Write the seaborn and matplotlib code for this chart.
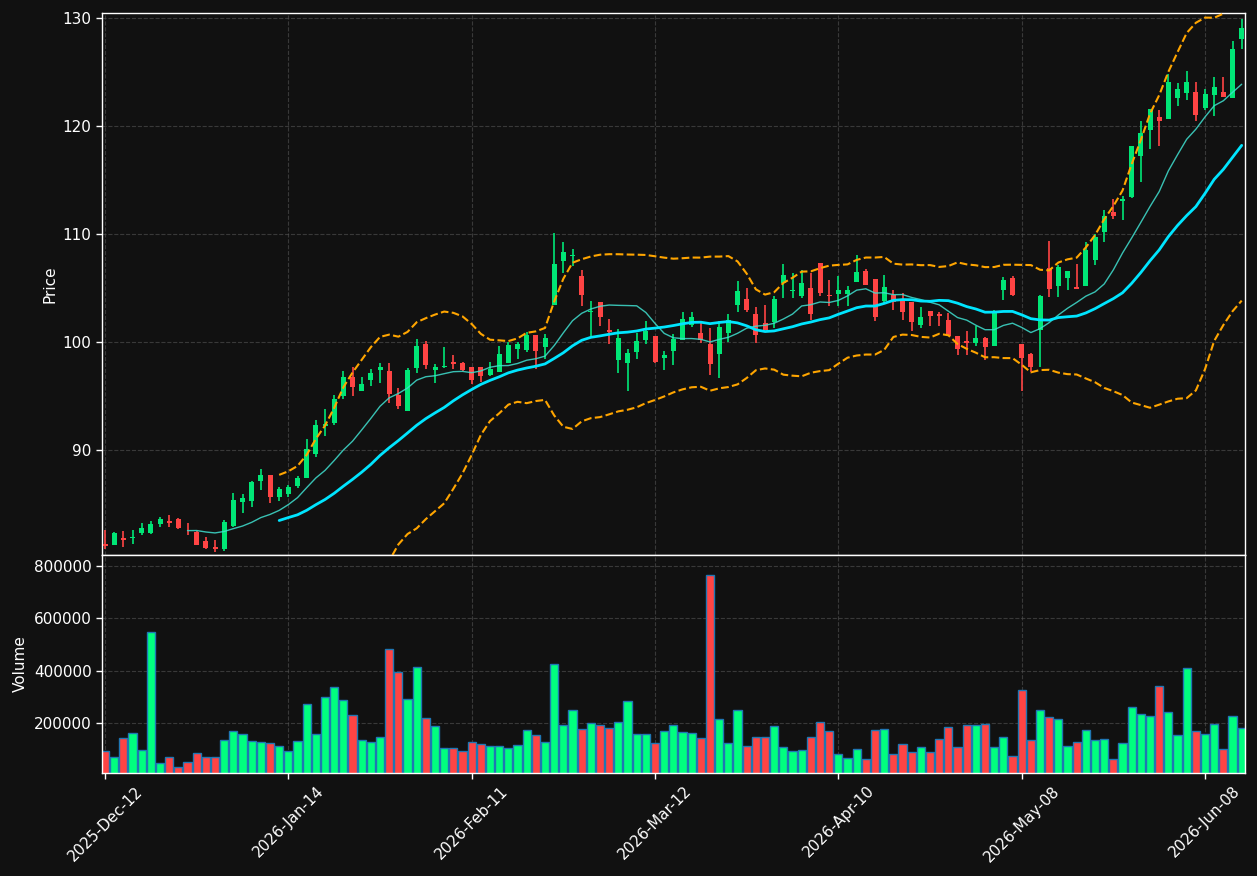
import numpy as np
import pandas as pd
import matplotlib
matplotlib.use("Agg")
import matplotlib.pyplot as plt
import seaborn as sns

opens = [81.33, 81.26, 81.91, 81.90, 82.34, 82.34, 83.18, 83.42, 83.64, 82.72,
         82.44, 81.60, 81.08, 80.86, 82.99, 85.21, 85.34, 87.16, 87.71, 85.71,
         85.95, 86.69, 87.47, 89.69, 92.28, 92.47, 94.97, 96.76, 95.43, 96.51,
         97.44, 97.34, 95.06, 93.58, 97.56, 99.84, 97.43, 97.68, 98.18, 98.10,
         97.71, 97.71, 96.91, 97.19, 98.02, 99.32, 99.29, 100.67, 99.50, 103.39,
         107.53, 107.96, 106.08, 102.74, 103.70, 101.11, 98.36, 98.02, 99.04, 100.21,
         100.58, 98.57, 99.13, 100.15, 101.60, 100.83, 99.84, 98.91, 100.80, 103.45,
         104.01, 102.59, 101.75, 101.90, 105.46, 104.70, 104.22, 104.99, 107.31, 104.38,
         104.47, 104.47, 105.52, 106.60, 105.83, 103.76, 104.38, 103.85, 103.70, 101.60,
         102.90, 102.62, 102.06, 100.58, 100.06, 99.90, 100.37, 99.66, 104.78, 105.92,
         99.84, 98.92, 101.08, 106.85, 105.15, 105.89, 105.12, 105.15, 107.62, 110.15,
         112.03, 113.02, 113.42, 117.22, 119.63, 120.86, 120.61, 122.56, 123.02, 123.14,
         121.63, 122.84, 123.18, 122.56, 128.02]
highs = [82.62, 82.44, 82.53, 82.62, 83.24, 83.45, 83.79, 84.01, 83.70, 83.24,
         82.50, 81.94, 81.70, 83.55, 86.02, 85.96, 87.16, 88.27, 87.71, 86.57,
         86.79, 87.62, 91.02, 92.80, 93.79, 95.12, 97.28, 97.68, 96.76, 97.50,
         98.05, 98.05, 95.74, 97.59, 100.27, 100.09, 97.99, 99.53, 98.82, 98.15,
         97.71, 97.71, 98.14, 99.60, 100.00, 100.00, 100.92, 100.70, 100.74, 110.09,
         109.25, 108.64, 106.69, 103.82, 103.70, 102.13, 101.23, 99.38, 100.83, 101.97,
         100.60, 99.13, 100.73, 102.77, 102.83, 101.75, 101.35, 101.97, 102.59, 105.61,
         105.00, 103.24, 103.45, 104.22, 107.22, 106.38, 106.69, 106.38, 107.31, 105.77,
         106.14, 105.15, 108.08, 106.78, 105.83, 106.23, 104.78, 104.53, 103.70, 103.24,
         102.90, 102.83, 102.68, 100.58, 101.07, 101.50, 100.46, 102.93, 106.01, 106.14,
         99.84, 98.95, 104.35, 109.38, 107.16, 106.60, 107.25, 109.22, 110.03, 112.25,
         113.24, 113.54, 118.14, 120.46, 121.60, 121.45, 124.78, 124.01, 125.09, 124.07,
         123.39, 124.56, 124.56, 127.87, 129.93]
lows = [80.83, 81.20, 81.08, 81.36, 82.13, 82.25, 82.93, 82.93, 82.75, 82.19,
        81.20, 80.83, 80.61, 80.71, 82.93, 84.16, 84.78, 86.32, 85.09, 85.34,
        85.64, 86.48, 87.40, 89.41, 91.32, 92.34, 94.72, 95.03, 95.43, 95.98,
        96.26, 94.41, 93.85, 93.58, 97.13, 97.50, 96.20, 97.56, 97.50, 97.30,
        96.11, 96.35, 96.90, 97.19, 98.02, 98.42, 99.04, 97.50, 98.42, 103.39,
        106.38, 107.00, 103.30, 100.52, 101.45, 99.81, 97.13, 95.43, 98.42, 99.81,
        98.10, 97.40, 97.86, 100.15, 101.44, 99.90, 96.97, 96.66, 100.00, 102.83,
        102.77, 99.90, 101.14, 101.29, 104.07, 104.07, 104.07, 102.06, 104.22, 103.30,
        103.30, 103.30, 105.52, 105.24, 101.97, 103.60, 102.93, 102.06, 100.98, 101.29,
        101.50, 101.50, 100.58, 98.82, 98.82, 99.66, 98.30, 99.66, 103.85, 104.22,
        95.43, 97.19, 97.74, 104.16, 104.16, 104.84, 104.93, 105.15, 107.16, 109.22,
        111.38, 111.26, 113.36, 114.81, 117.90, 118.14, 120.61, 121.85, 122.40, 120.46,
        121.48, 120.92, 122.71, 122.56, 127.10]
closes = [81.14, 82.31, 81.73, 81.98, 82.81, 83.18, 83.64, 83.30, 82.81, 82.66,
          81.23, 80.95, 80.86, 83.36, 85.40, 85.58, 87.07, 87.71, 85.71, 86.42,
          86.57, 87.40, 90.09, 92.34, 92.40, 94.72, 96.76, 95.89, 96.14, 97.13,
          97.74, 95.21, 94.10, 97.44, 99.66, 97.90, 97.65, 97.80, 97.99, 97.42,
          96.51, 96.82, 97.53, 98.92, 99.75, 99.81, 100.67, 99.19, 100.37, 107.22,
          108.33, 108.00, 104.38, 102.90, 102.28, 100.95, 100.37, 99.01, 100.12, 101.04,
          98.20, 98.82, 100.30, 102.15, 102.31, 100.21, 97.96, 101.41, 102.03, 104.75,
          102.93, 100.67, 101.14, 104.01, 106.23, 104.80, 105.46, 102.59, 104.53, 104.30,
          104.84, 104.84, 106.48, 105.24, 102.28, 105.09, 103.67, 102.74, 101.82, 102.31,
          102.43, 102.43, 100.58, 99.35, 99.90, 100.37, 99.53, 102.74, 105.77, 104.38,
          98.51, 97.68, 104.22, 104.93, 106.94, 106.60, 104.93, 108.54, 109.72, 111.69,
          111.63, 113.24, 118.14, 119.38, 121.60, 120.43, 124.07, 123.45, 124.07, 120.98,
          122.99, 123.64, 122.71, 127.16, 129.10]
volumes = [92300, 69200, 141000, 161500, 96200, 546100, 46200, 69200, 30800, 50000,
           84600, 69200, 69200, 134600, 169200, 157700, 130800, 126900, 123100, 111500,
           92300, 130800, 273100, 157700, 300000, 338400, 288500, 230800, 134600, 126900,
           146100, 480800, 396100, 292300, 415400, 219200, 188500, 103800, 103800, 92300,
           126900, 119200, 111500, 111500, 103800, 115400, 173100, 153800, 126900, 423100,
           192300, 250000, 176900, 200000, 192300, 180800, 203800, 284600, 157700, 157700,
           123100, 169200, 192300, 165400, 161500, 142300, 765400, 215400, 123100, 250000,
           111500, 146100, 146100, 188500, 107700, 92300, 96200, 146100, 203800, 169200,
           80800, 65400, 100000, 61500, 173100, 176900, 80800, 119200, 88500, 107700,
           88500, 138500, 184600, 107700, 192300, 192300, 196200, 107700, 146100, 73100,
           326900, 134600, 250000, 223100, 215400, 111500, 126900, 173100, 134600, 138500,
           61500, 123100, 261500, 234600, 226900, 342300, 242300, 153800, 411500, 169200,
           157700, 196200, 100000, 226900, 180800]
tick_positions = [0, 20, 40, 60, 80, 100, 120]
tick_labels = ["2025-Dec-12", "2026-Jan-14", "2026-Feb-11", "2026-Mar-12",
               "2026-Apr-10", "2026-May-08", "2026-Jun-08"]

BG = "#111111"
sns.set_style("dark", rc={"axes.facecolor": BG, "figure.facecolor": BG,
                          "axes.edgecolor": "white", "text.color": "white",
                          "axes.labelcolor": "white", "xtick.color": "white",
                          "ytick.color": "white"})
plt.rcParams["font.family"] = ["DejaVu Sans"]

df = pd.DataFrame({"idx": np.arange(len(closes)), "open": opens, "high": highs,
                   "low": lows, "close": closes, "volume": volumes})
df["sma10"] = df["close"].rolling(10).mean()
df["sma20"] = df["close"].rolling(20).mean()
sd = df["close"].rolling(20).std()
df["upper"] = df["sma20"] + 2 * sd
df["lower"] = df["sma20"] - 2 * sd

up = df["close"] >= df["open"]
candle_col = np.where(up, "#00e676", "#ff4444")
vol_col = np.where(up, "#00ff7f", "#ff4444")

fig = plt.figure(figsize=(12.57, 8.76), dpi=100)
W, H = 1257, 876
ax1 = fig.add_axes([102 / W, 1 - 555 / H, (1245 - 102) / W, (555 - 13) / H])
ax2 = fig.add_axes([102 / W, 1 - 773 / H, (1245 - 102) / W, (773 - 555) / H], sharex=ax1)

# candles
ax1.vlines(df["idx"], df["low"], df["high"], colors=candle_col, linewidth=1.2, zorder=2)
body_lo = np.minimum(df["open"], df["close"])
body_h = np.maximum(np.abs(df["close"] - df["open"]), 0.08)
ax1.bar(df["idx"], body_h, bottom=body_lo, width=0.55, color=candle_col, linewidth=0, zorder=3)

sns.lineplot(data=df, x="idx", y="sma10", ax=ax1, color="#40e0d0", linewidth=1.0, alpha=0.85, zorder=4)
sns.lineplot(data=df, x="idx", y="sma20", ax=ax1, color="#00e5ff", linewidth=2.0, zorder=4)
sns.lineplot(data=df, x="idx", y="upper", ax=ax1, color="orange", linewidth=1.5, linestyle="--", zorder=4)
sns.lineplot(data=df, x="idx", y="lower", ax=ax1, color="orange", linewidth=1.5, linestyle="--", zorder=4)

ax1.set_ylim(80.3, 130.45)
ax1.set_xlim(-0.33, 124.36)
ax1.set_ylabel("Price", fontsize=11)
ax1.set_xlabel("")
ax1.tick_params(axis="x", labelbottom=False, bottom=False)

# volume
ax2.bar(df["idx"], df["volume"], width=0.9, color=vol_col, edgecolor="#1f77b4", linewidth=1.0, zorder=2)
ax2.set_ylim(8000, max(volumes) * 1.1)
ax2.set_ylabel("Volume", fontsize=11)
ax2.set_xticks(tick_positions)
ax2.set_xticklabels(tick_labels, rotation=45, ha="center")
ax2.set_yticks([200000, 400000, 600000, 800000])
ax2.ticklabel_format(axis="y", style="plain")

for ax in (ax1, ax2):
    ax.grid(True, linestyle="--", color="#555555", linewidth=0.8, alpha=0.6)
    ax.set_axisbelow(True)
    for s in ax.spines.values():
        s.set_color("white")
        s.set_linewidth(1.0)
    ax.tick_params(axis="both", labelsize=11, colors="white", length=4, width=1,
                   direction="out", left=True)
ax2.tick_params(axis="x", bottom=True, length=4)

fig.savefig("out.png", dpi=100, facecolor=BG)
